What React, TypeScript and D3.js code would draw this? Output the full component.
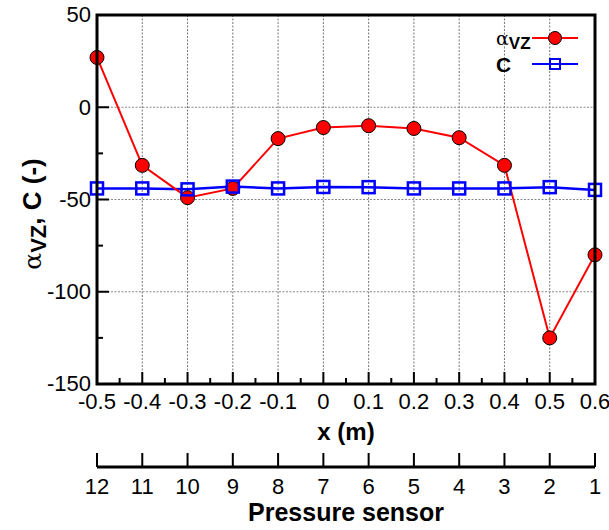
import React from "react";
import * as d3 from "d3";

const xValues = [-0.5, -0.4, -0.3, -0.2, -0.1, 0, 0.1, 0.2, 0.3, 0.4, 0.5, 0.6];
const alphaVZ = [27, -31.5, -49, -44, -17, -11, -10, -11.5, -16.5, -31.5, -125, -80];
const cValues = [-44, -44, -44.5, -43, -44, -43.2, -43.3, -44, -44, -44, -43.3, -44.8];
const sensorLabels = ["12", "11", "10", "9", "8", "7", "6", "5", "4", "3", "2", "1"];
const xTicks = [-0.5, -0.4, -0.3, -0.2, -0.1, 0, 0.1, 0.2, 0.3, 0.4, 0.5, 0.6];
const xTickLabels = ["-0.5", "-0.4", "-0.3", "-0.2", "-0.1", "0", "0.1", "0.2", "0.3", "0.4", "0.5", "0.6"];
const xMinorTicks = [-0.45, -0.35, -0.25, -0.15, -0.05, 0.05, 0.15, 0.25, 0.35, 0.45, 0.55];
const yTicks = [50, 0, -50, -100, -150];
const yMinorTicks = [25, -25, -75, -125];
const yGrid = [0, -50, -100];

const W = 609;
const H = 530;
const L = 97, R = 595, T = 15, B = 384;
const FONT = "'Liberation Sans', Arial, sans-serif";

export default function App() {
  const x = d3.scaleLinear().domain([-0.5, 0.6]).range([L, R]);
  const y = d3.scaleLinear().domain([-150, 50]).range([B, T]);
  const idx = d3.range(xValues.length);
  const redPath = d3.line<number>().x((i) => x(xValues[i])).y((i) => y(alphaVZ[i]))(idx) || "";
  const bluePath = d3.line<number>().x((i) => x(xValues[i])).y((i) => y(cValues[i]))(idx) || "";
  const sx = d3.scalePoint<string>().domain(sensorLabels).range([L, R]);
  const sY = 467;

  return (
    <svg width={W} height={H} style={{ position: "absolute", left: 0, top: 0, background: "#fff" }} fontFamily={FONT}>
      <rect x={0} y={0} width={W} height={H} fill="#fff" />
      {/* grid */}
      {xTicks.slice(1, -1).map((t) => (
        <line key={"gx" + t} x1={x(t)} x2={x(t)} y1={T} y2={B} stroke="#777" strokeWidth={1} strokeDasharray="2,1.5" />
      ))}
      {yGrid.map((t) => (
        <line key={"gy" + t} x1={L} x2={R} y1={y(t)} y2={y(t)} stroke="#888" strokeWidth={1} strokeDasharray="2,1.5" />
      ))}
      {/* ticks (inward) */}
      {xTicks.map((t) => (
        <line key={"xt" + t} x1={x(t)} x2={x(t)} y1={B} y2={B - 12} stroke="#000" strokeWidth={2} />
      ))}
      {xMinorTicks.map((t) => (
        <line key={"xm" + t} x1={x(t)} x2={x(t)} y1={B} y2={B - 6} stroke="#000" strokeWidth={2} />
      ))}
      {yTicks.map((t) => (
        <line key={"yt" + t} x1={L} x2={L + 12} y1={y(t)} y2={y(t)} stroke="#000" strokeWidth={2} />
      ))}
      {yMinorTicks.map((t) => (
        <line key={"ym" + t} x1={L} x2={L + 6} y1={y(t)} y2={y(t)} stroke="#000" strokeWidth={2} />
      ))}
      {/* series */}
      <path d={bluePath} fill="none" stroke="#0000ff" strokeWidth={2.5} />
      <path d={redPath} fill="none" stroke="#ff0000" strokeWidth={2} />
      {idx.map((i) => (
        <circle key={"c" + i} cx={x(xValues[i])} cy={y(alphaVZ[i])} r={7} fill="#ff0000" stroke="#000" strokeWidth={1} />
      ))}
      {idx.map((i) => (
        <rect key={"s" + i} x={x(xValues[i]) - 6} y={y(cValues[i]) - 6} width={12} height={12} fill="none" stroke="#0000ff" strokeWidth={2.5} />
      ))}
      {/* frame */}
      <rect x={L} y={T} width={R - L} height={B - T} fill="none" stroke="#000" strokeWidth={3} />
      {/* y tick labels */}
      {yTicks.map((t) => (
        <text key={"yl" + t} x={L - 6} y={y(t)} dy="0.34em" textAnchor="end" fontSize={22} fill="#000">
          {String(t)}
        </text>
      ))}
      {/* x tick labels */}
      {xTicks.map((t, i) => (
        <text key={"xl" + t} x={x(t)} y={409} textAnchor="middle" fontSize={22} fill="#000">
          {xTickLabels[i]}
        </text>
      ))}
      <text x={(L + R) / 2} y={440} textAnchor="middle" fontSize={24} fontWeight="bold" fill="#000">
        x (m)
      </text>
      {/* sensor axis */}
      <line x1={L} x2={R} y1={sY} y2={sY} stroke="#000" strokeWidth={3} />
      {sensorLabels.map((s) => (
        <line key={"st" + s} x1={sx(s)} x2={sx(s)} y1={sY} y2={sY - 14} stroke="#000" strokeWidth={2} />
      ))}
      {sensorLabels.map((s) => (
        <text key={"sl" + s} x={sx(s)} y={494} textAnchor="middle" fontSize={22} fill="#000">
          {s}
        </text>
      ))}
      <text x={(L + R) / 2} y={521} textAnchor="middle" fontSize={25} fontWeight="bold" fill="#000">
        Pressure sensor
      </text>
      {/* y axis label */}
      <text transform={`translate(41, ${214}) rotate(-90)`} textAnchor="middle" fontSize={26} fill="#000">
        <tspan fontFamily="'DejaVu Serif', serif" fontSize={25}>α</tspan>
        <tspan fontWeight="bold" fontSize={22} dy={5}>VZ</tspan>
        <tspan fontWeight="bold" dy={-5}>, C (-)</tspan>
      </text>
      {/* legend */}
      <text x={496} y={45} fontSize={19} fill="#000">
        <tspan fontFamily="'DejaVu Serif', serif">α</tspan>
        <tspan fontWeight="bold" fontSize={17} dy={4}>VZ</tspan>
      </text>
      <line x1={532} x2={578} y1={38} y2={38} stroke="#ff0000" strokeWidth={2} />
      <circle cx={555} cy={38} r={6.5} fill="#ff0000" stroke="#000" strokeWidth={1} />
      <text x={496} y={72} fontSize={21} fontWeight="bold" fill="#000">C</text>
      <line x1={532} x2={578} y1={64} y2={64} stroke="#0000ff" strokeWidth={2} />
      <rect x={550} y={59} width={10} height={10} fill="none" stroke="#0000ff" strokeWidth={2} />
    </svg>
  );
}
